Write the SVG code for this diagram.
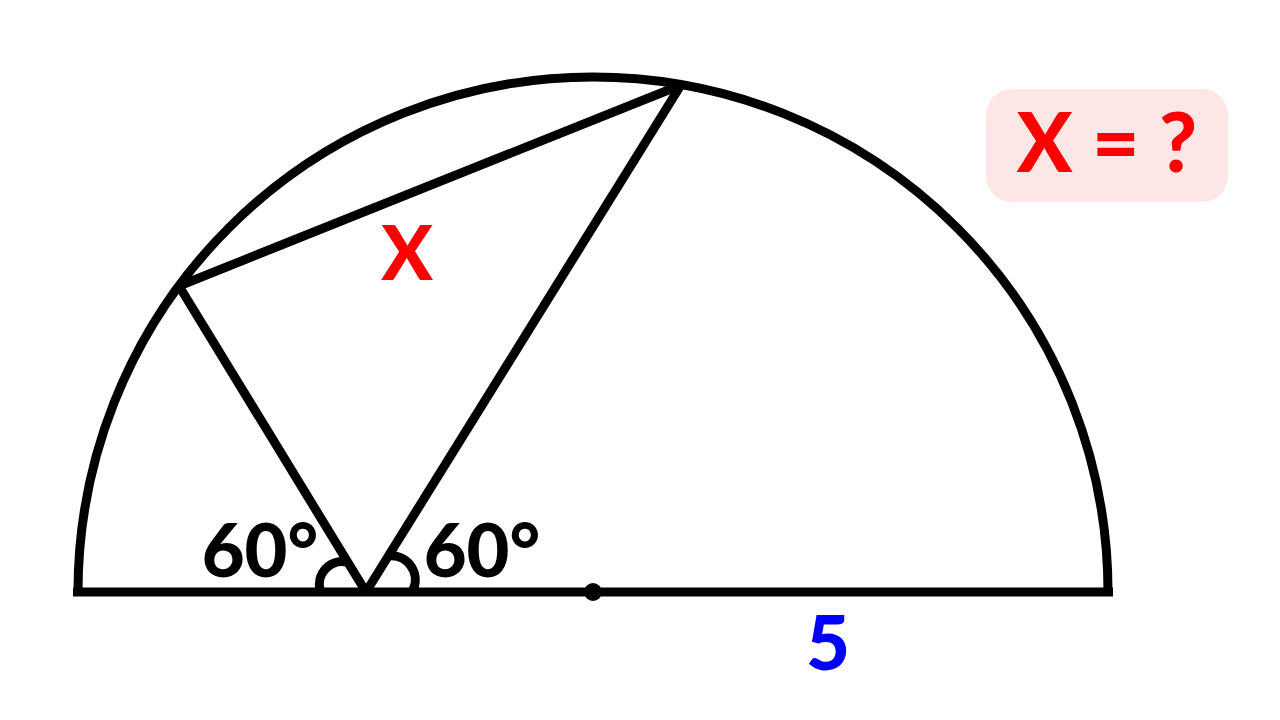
<svg xmlns="http://www.w3.org/2000/svg" width="1280" height="720" viewBox="0 0 1280 720">
<style>
.ln{fill:none;stroke:#000;stroke-width:9;stroke-linejoin:round}
.t{font-family:Lato,"Liberation Sans",sans-serif;font-weight:900}
</style>
<rect width="1280" height="720" fill="#fff"/>
<g id="semicircle">
<path class="ln" d="M78 592 A515 515 0 0 1 1108 592"/>
<line class="ln" x1="73" y1="592" x2="1113" y2="592"/>
<circle cx="593" cy="592" r="9" fill="#000"/>
</g>
<g id="connectors">
<line class="ln" x1="366" y1="592" x2="179" y2="286"/>
<line class="ln" x1="366" y1="592" x2="681" y2="85"/>
<line class="ln" x1="179" y1="286" x2="681" y2="85"/>
<path class="ln" d="M320 590 A23 23 0 0 1 347 562"/>
<path class="ln" d="M388 556 A24 24 0 0 1 413 590"/>
</g>
<g id="labels">
<text class="t" x="260" y="577" font-size="74" text-anchor="middle">60°</text>
<text class="t" x="482" y="577" font-size="74" text-anchor="middle">60°</text>
<text class="t" x="407" y="280" font-size="76" text-anchor="middle" fill="#ff0000">X</text>
<text class="t" x="828" y="670" font-size="76" text-anchor="middle" fill="#0000ff">5</text>
</g>
<g id="question">
<rect x="986" y="89" width="242" height="113" rx="26" fill="#fde6e6"/>
<text class="t" x="1107" y="172" font-size="82" text-anchor="middle" fill="#ff0000">X = ?</text>
</g>
</svg>
